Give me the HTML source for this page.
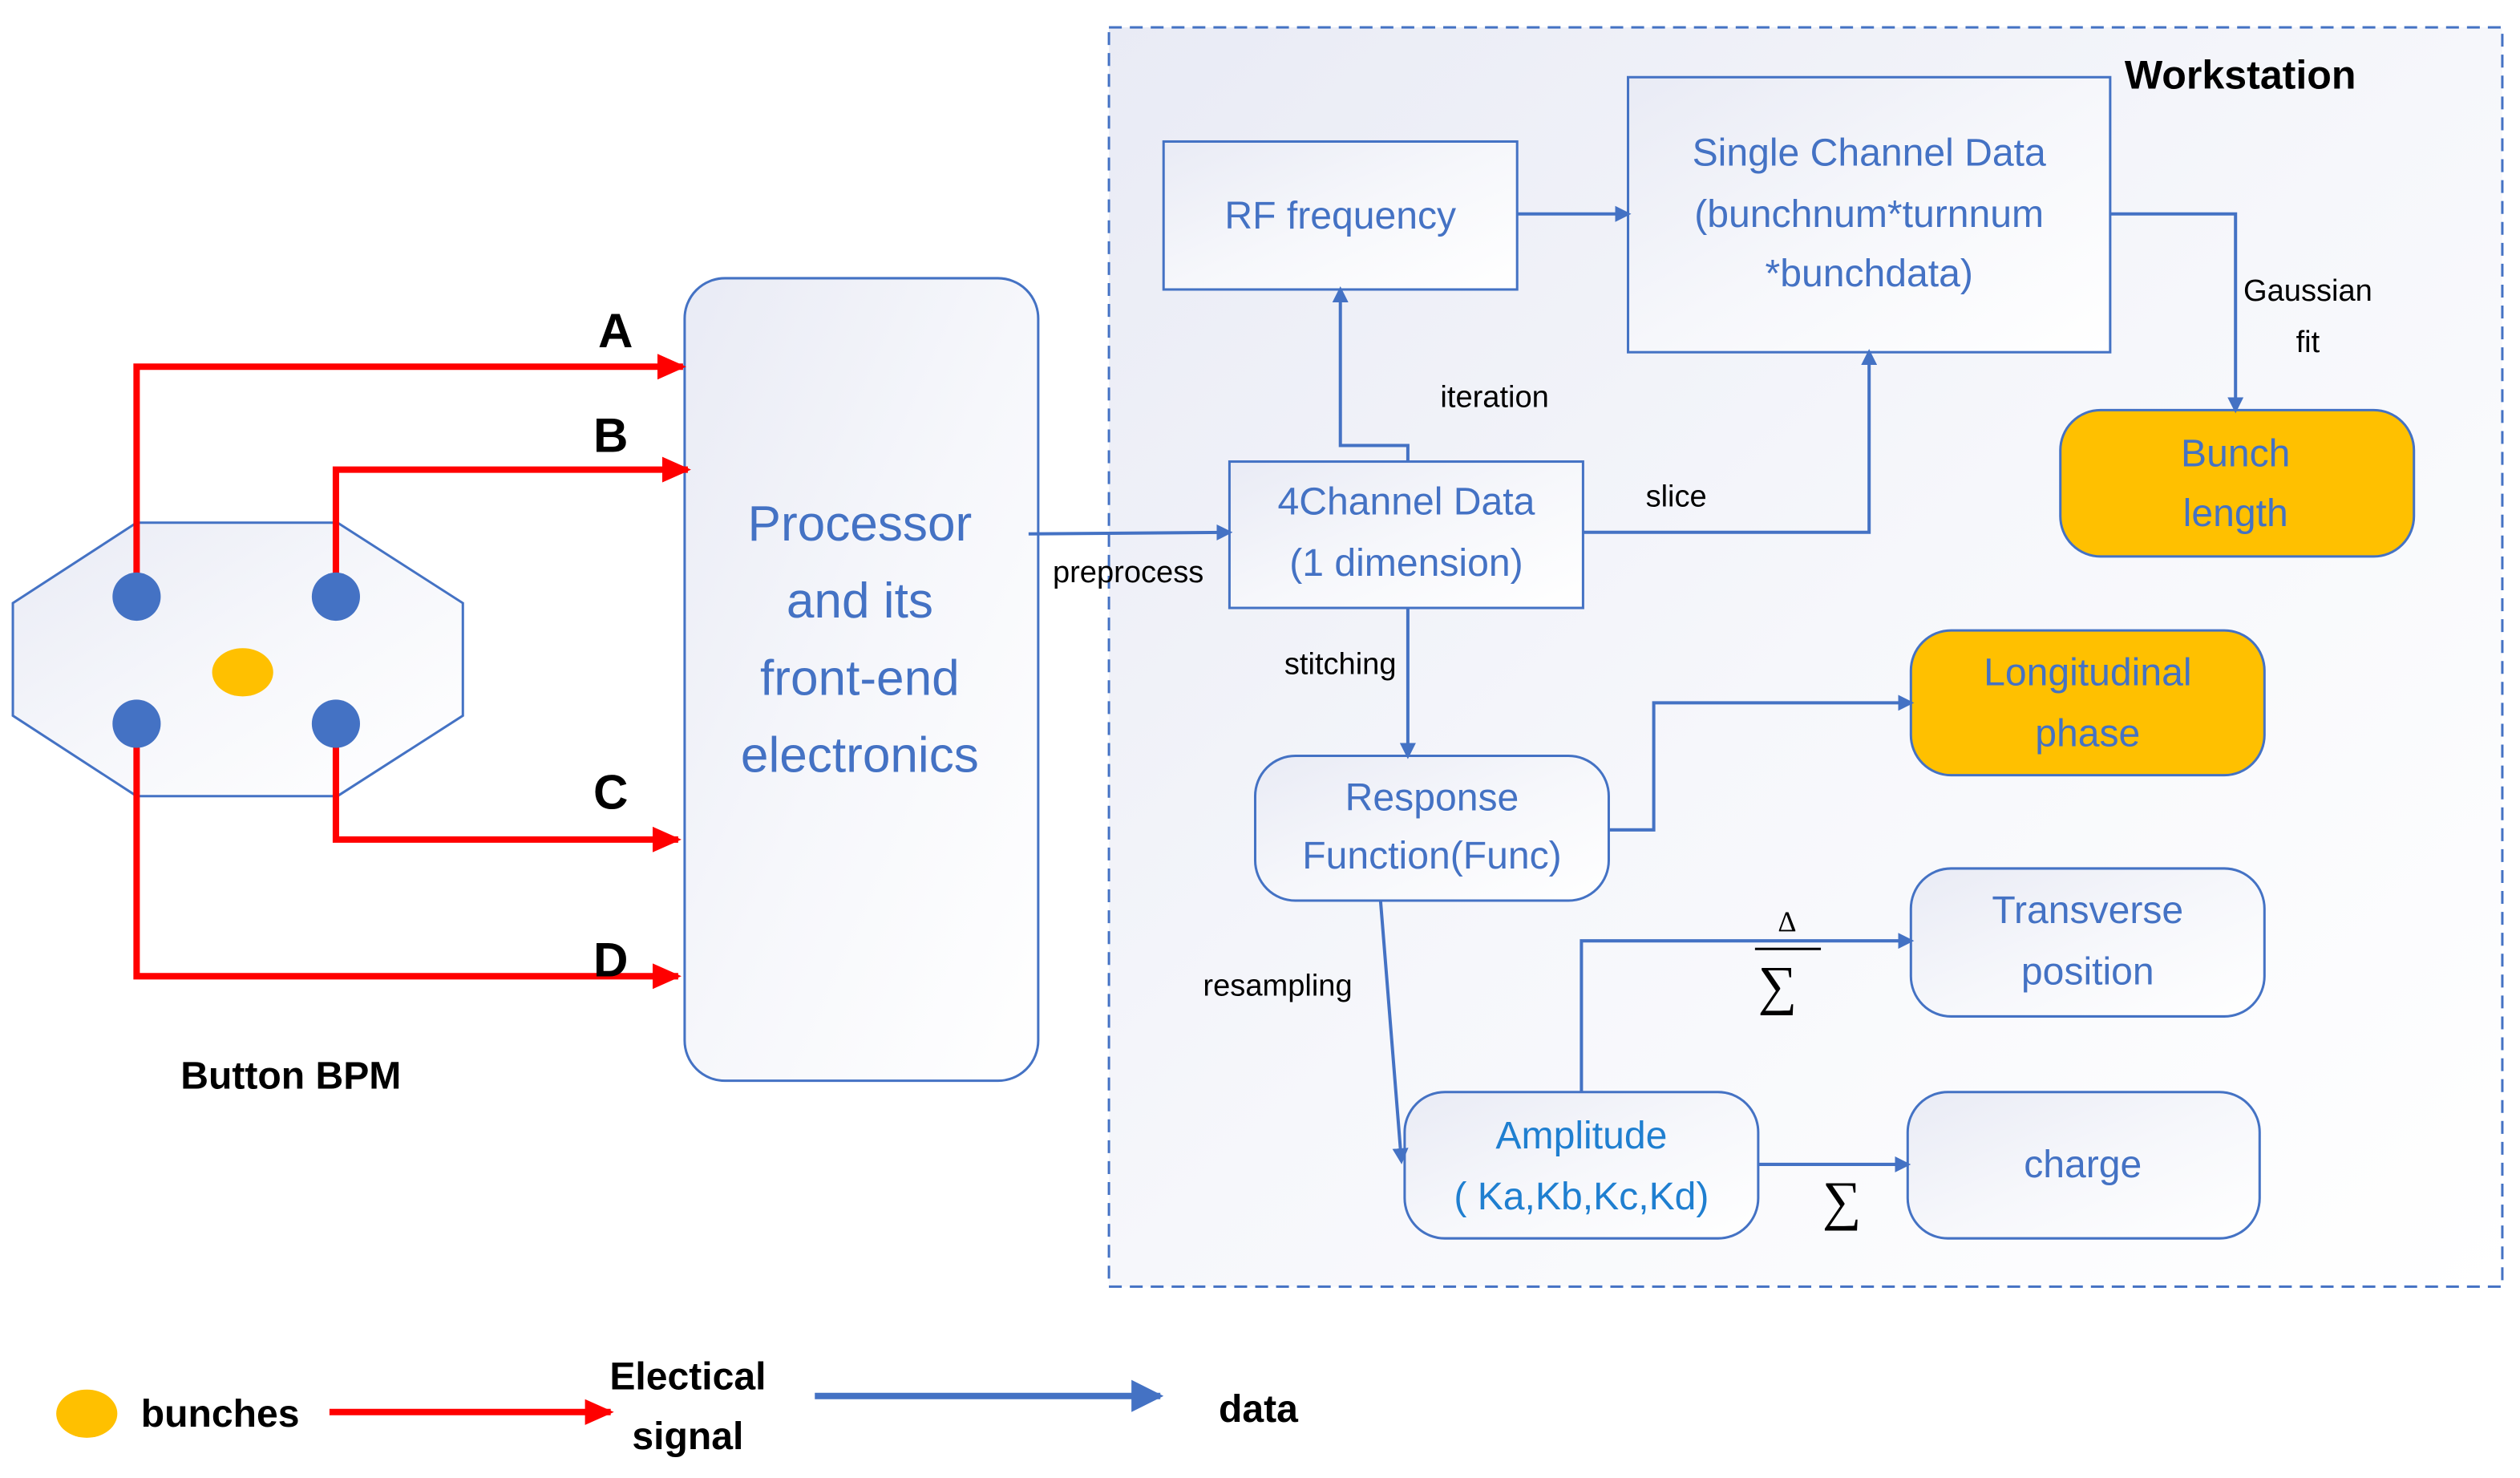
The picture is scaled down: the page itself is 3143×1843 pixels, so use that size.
<!DOCTYPE html>
<html><head><meta charset="utf-8"><style>html,body{margin:0;padding:0;background:#fff}svg{display:block}</style></head>
<body>
<svg width="3143" height="1843" viewBox="0 0 1568 919" preserveAspectRatio="none" xmlns="http://www.w3.org/2000/svg" font-family="Liberation Sans, sans-serif">
<defs>
<linearGradient id="g" x1="0" y1="0" x2="1" y2="1"><stop offset="0" stop-color="#e9ebf5"/><stop offset="0.5" stop-color="#f6f7fb"/><stop offset="1" stop-color="#ffffff"/></linearGradient>
<marker id="ab" markerWidth="10" markerHeight="10" refX="8" refY="5" orient="auto" markerUnits="userSpaceOnUse"><path d="M0,0 L10,5 L0,10z" fill="#4472c4"/></marker>
<marker id="ab2" markerWidth="20" markerHeight="20" refX="18" refY="10" orient="auto" markerUnits="userSpaceOnUse"><path d="M0,0 L20,10 L0,20z" fill="#4472c4"/></marker>
<marker id="ar" markerWidth="18" markerHeight="16" refX="16" refY="8" orient="auto" markerUnits="userSpaceOnUse"><path d="M0,0 L18,8 L0,16z" fill="#ff0000"/></marker>
</defs>
<g stroke="#4472c4" stroke-width="1.5">
<rect x="690" y="17" width="867" height="783" fill="url(#g)" stroke-dasharray="8,5"/>
<rect x="426" y="173" width="220" height="499" rx="25" fill="url(#g)"/>
<polygon points="8,375 85,325 210,325 288,375 288,445 210,495 85,495 8,445" fill="url(#g)"/>
<rect x="724" y="88" width="220" height="92" fill="url(#g)"/>
<rect x="1013" y="48" width="300" height="171" fill="url(#g)"/>
<rect x="1282" y="255" width="220" height="91" rx="25" fill="#ffc000"/>
<rect x="765" y="287" width="220" height="91" fill="url(#g)"/>
<rect x="1189" y="392" width="220" height="90" rx="25" fill="#ffc000"/>
<rect x="781" y="470" width="220" height="90" rx="25" fill="url(#g)"/>
<rect x="1189" y="540" width="220" height="92" rx="25" fill="url(#g)"/>
<rect x="874" y="679" width="220" height="91" rx="25" fill="url(#g)"/>
<rect x="1187" y="679" width="219" height="91" rx="25" fill="url(#g)"/>
</g>
<g stroke="#4472c4" stroke-width="2" fill="none" marker-end="url(#ab)">
<polyline points="640,332 765,331"/>
<polyline points="876,287 876,277 834,277 834,180"/>
<polyline points="944,133 1013,133"/>
<polyline points="985,331 1163,331 1163,219"/>
<polyline points="1313,133 1391,133 1391,255"/>
<polyline points="876,378 876,470"/>
<polyline points="1001,516 1029,516 1029,437 1189,437"/>
<polyline points="859,560 872,722"/>
<polyline points="984,679 984,585 1189,585"/>
<polyline points="1094,724 1187,724"/>
</g>
<g stroke="#ff0000" stroke-width="4" fill="none" marker-end="url(#ar)">
<polyline points="85,371 85,228 425,228"/>
<polyline points="209,371 209,292 428,292"/>
<polyline points="209,450 209,522 422,522"/>
<polyline points="85,450 85,607 422,607"/>
<polyline points="205,878 380,878"/>
</g>
<polyline points="507,868 722,868" stroke="#4472c4" stroke-width="4" marker-end="url(#ab2)"/>
<g fill="#4472c4"><ellipse cx="85" cy="371" rx="15" ry="15"/><ellipse cx="209" cy="371" rx="15" ry="15"/><ellipse cx="85" cy="450" rx="15" ry="15"/><ellipse cx="209" cy="450" rx="15" ry="15"/></g>
<ellipse cx="151" cy="418" rx="19" ry="15" fill="#ffc000"/>
<ellipse cx="54" cy="879" rx="19" ry="15" fill="#ffc000"/>
<g fill="#000" font-weight="bold" text-anchor="middle">
<text x="383" y="216" font-size="30">A</text><text x="380" y="281" font-size="30">B</text>
<text x="380" y="503" font-size="30">C</text><text x="380" y="607" font-size="30">D</text>
<text x="181" y="677" font-size="24">Button BPM</text>
<text x="1394" y="55" font-size="25">Workstation</text>
<text x="137" y="887" font-size="24">bunches</text>
<text x="428" y="864" font-size="24">Electical</text><text x="428" y="901" font-size="24">signal</text>
<text x="783" y="884" font-size="24">data</text>
</g>
<g fill="#4472c4" text-anchor="middle" font-size="24">
<text x="535" y="336" font-size="31">Processor</text><text x="535" y="384" font-size="31">and its</text><text x="535" y="432" font-size="31">front-end</text><text x="535" y="480" font-size="31">electronics</text>
<text x="834" y="142">RF frequency</text>
<text x="1163" y="103">Single Channel Data</text><text x="1163" y="141">(bunchnum*turnnum</text><text x="1163" y="178">*bunchdata)</text>
<text x="1391" y="290">Bunch</text><text x="1391" y="327">length</text>
<text x="875" y="320">4Channel Data</text><text x="875" y="358">(1 dimension)</text>
<text x="1299" y="426">Longitudinal</text><text x="1299" y="464">phase</text>
<text x="891" y="504">Response</text><text x="891" y="540">Function(Func)</text>
<text x="1299" y="574">Transverse</text><text x="1299" y="612">position</text>
<text x="984" y="714" fill="#1f7fd0">Amplitude</text><text x="984" y="752" fill="#1f7fd0">( Ka,Kb,Kc,Kd)</text>
<text x="1296" y="732">charge</text>
</g>
<g fill="#000" font-size="19" text-anchor="middle">
<text x="702" y="362">preprocess</text>
<text x="930" y="253">iteration</text>
<text x="1043" y="315">slice</text>
<text x="1436" y="187">Gaussian</text><text x="1436" y="219">fit</text>
<text x="834" y="419">stitching</text>
<text x="795" y="619">resampling</text>
<text x="1112" y="579" font-size="18" font-family="Liberation Serif, serif">Δ</text>
<line x1="1092" y1="590" x2="1133" y2="590" stroke="#000" stroke-width="1.5"/>
<text x="1106" y="624" font-size="34" font-family="Liberation Serif, serif">∑</text>
<text x="1146" y="758" font-size="34" font-family="Liberation Serif, serif">∑</text>
</g>
</svg>
</body></html>
